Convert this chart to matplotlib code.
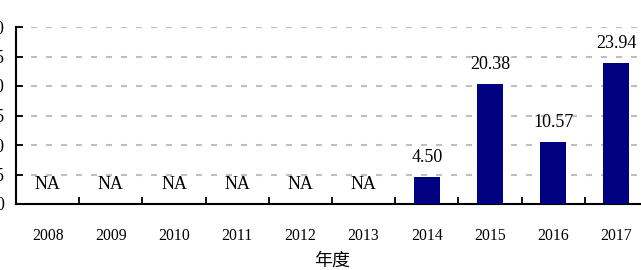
import matplotlib.pyplot as plt
import numpy as np

# dados
anos = ['2008', '2009', '2010', '2011', '2012', '2013', '2014', '2015', '2016', '2017']
valores = [None, None, None, None, None, None, 4.50, 20.38, 10.57, 23.94]
yticks = [0, 5, 10, 15, 20, 25, 30]

plt.rcParams['font.family'] = ['Liberation Serif', 'Noto Sans CJK SC']

fig = plt.figure(figsize=(6.41, 2.70), dpi=100)
ax = fig.add_axes([16 / 641, 1 - 204 / 270, 632 / 641, (204 - 27) / 270])

x = np.arange(len(anos))
alturas = [v if v is not None else 0 for v in valores]
ax.bar(x, alturas, width=0.41, color='#000080', zorder=3)

# rotulos dos valores (NA quando nao ha dado)
for xi, v in zip(x, valores):
    texto = 'NA' if v is None else f'{v:.2f}'
    ax.annotate(texto, (xi, v if v is not None else 0), xytext=(0, 8),
                textcoords='offset points', ha='center', va='bottom', fontsize=13)

ax.set_xlim(-0.5, len(anos) - 0.5)
ax.set_ylim(0, 30)
ax.set_yticks(yticks)
ax.set_yticklabels([str(t) for t in yticks], fontsize=13)
ax.set_xticks(x)
ax.set_xticklabels(anos, fontsize=11.3)
ax.set_xticks(np.arange(-0.5, len(anos), 1), minor=True)
ax.tick_params(axis='x', which='major', length=0, pad=17)
ax.tick_params(axis='x', which='minor', direction='in', length=5, width=1.3)
ax.tick_params(axis='y', direction='in', length=5, width=1.3, pad=8.5)

ax.yaxis.grid(True, color='#bfbfbf', linestyle=(0, (2.9, 4.3)), linewidth=1.5, zorder=0)
for s in ['top', 'right']:
    ax.spines[s].set_visible(False)
for s in ['left', 'bottom']:
    ax.spines[s].set_linewidth(1.5)

ax.set_xlabel('年度', fontsize=13, family=['Noto Sans CJK SC'], labelpad=6)

fig.savefig('out.png', dpi=100)
